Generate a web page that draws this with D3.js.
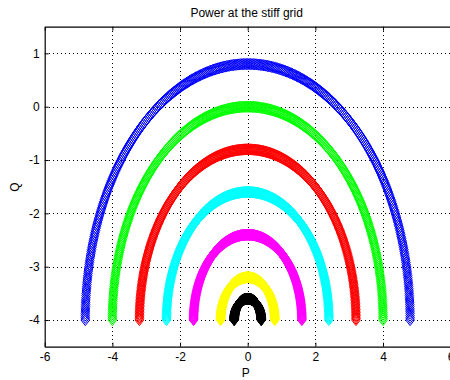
<!DOCTYPE html>
<html>
<head>
<meta charset="utf-8">
<script src="https://cdn.jsdelivr.net/npm/d3@7"></script>
<style>
  html, body { margin: 0; padding: 0; background: #fff; }
  svg { display: block; }
  text { font-family: "Liberation Sans", Arial, Helvetica, sans-serif; fill: #000; }
</style>
</head>
<body>
<svg id="chart" width="450" height="380"></svg>
<script>
// Sending-end voltage magnitudes (pu), one curve each
const sendVoltages = [1.2, 1.0, 0.8, 0.6, 0.4, 0.2, 0.1];
const curveColors = ["#0000ff", "#00ff00", "#ff0000", "#00ffff", "#ff00ff", "#ffff00", "#000000"];
// Stiff grid voltage (pu) and line reactance (pu)
const gridVoltage = 1.0;
const lineReactance = 0.25;
// Load angle sweep, degrees
const angleStart = -90, angleEnd = 90, angleStep = 0.5;

const xTicks = [-6, -4, -2, 0, 2, 4, 6];
const yTicks = [-4, -3, -2, -1, 0, 1];
const xDomain = [-6, 6];
const yDomain = [-4.5, 1.5];

const svg = d3.select("#chart");
const plotLeft = 44.7, plotRight = 450.7, plotTop = 26.7, plotBottom = 346.7;

const x = d3.scaleLinear().domain(xDomain).range([plotLeft, plotRight]);
const y = d3.scaleLinear().domain(yDomain).range([plotBottom, plotTop]);

// dotted grid
const grid = svg.append("g").attr("stroke", "#000").attr("stroke-width", 1)
  .attr("stroke-dasharray", "1,3").attr("shape-rendering", "crispEdges");
grid.selectAll("line.v").data(xTicks.filter(d => d > xDomain[0] && d < xDomain[1]))
  .join("line").attr("class", "v")
  .attr("x1", d => Math.round(x(d)) + 0.5).attr("x2", d => Math.round(x(d)) + 0.5)
  .attr("y1", plotTop).attr("y2", plotBottom);
grid.selectAll("line.h").data(yTicks.filter(d => d > yDomain[0] && d < yDomain[1]))
  .join("line").attr("class", "h")
  .attr("y1", d => Math.round(y(d)) + 0.5).attr("y2", d => Math.round(y(d)) + 0.5)
  .attr("x1", plotLeft).attr("x2", plotRight);

// P-Q circles: P = V*Vg*sin(d)/X, Q = (V*Vg*cos(d) - Vg^2)/X
const angles = d3.range(angleStart, angleEnd + angleStep / 2, angleStep);
const hw = 4.3, hh = 5.6;
const diamond = `M0,${-hh}L${hw},0L0,${hh}L${-hw},0Z`;

sendVoltages.forEach((v, i) => {
  const pts = angles.map(a => {
    const r = a * Math.PI / 180;
    return {
      p: v * gridVoltage * Math.sin(r) / lineReactance,
      q: (v * gridVoltage * Math.cos(r) - gridVoltage * gridVoltage) / lineReactance
    };
  });
  svg.append("g")
    .attr("fill", "none")
    .attr("stroke", curveColors[i])
    .attr("stroke-width", 1)
    .selectAll("path").data(pts).join("path")
    .attr("d", diamond)
    .attr("transform", d => `translate(${x(d.p)},${y(d.q)})`);
});

// axes
const fmt = d => String(d);
const xAxis = svg.append("g").attr("transform", `translate(0,${plotBottom})`)
  .call(d3.axisBottom(x).tickValues(xTicks).tickFormat(fmt).tickSizeInner(-4).tickSizeOuter(0).tickPadding(6));
const yAxis = svg.append("g").attr("transform", `translate(${plotLeft},0)`)
  .call(d3.axisLeft(y).tickValues(yTicks).tickFormat(fmt).tickSizeInner(-4).tickSizeOuter(0).tickPadding(5));
const topAxis = svg.append("g").attr("transform", `translate(0,${plotTop})`)
  .call(d3.axisTop(x).tickValues(xTicks).tickFormat("").tickSizeInner(-4).tickSizeOuter(0));
[xAxis, yAxis, topAxis].forEach(g => {
  g.selectAll(".domain").attr("stroke", "#000").attr("stroke-width", 1.2);
  g.selectAll(".tick line").attr("stroke", "#000");
  g.selectAll("text").attr("font-size", 12).attr("fill", "#000")
    .attr("font-family", '"Liberation Sans", Arial, sans-serif');
});

// title and axis labels
svg.append("text").attr("x", (plotLeft + plotRight) / 2 - 1).attr("y", 17)
  .attr("text-anchor", "middle").attr("font-size", 12).text("Power at the stiff grid");
svg.append("text").attr("x", (plotLeft + plotRight) / 2 - 2).attr("y", 377)
  .attr("text-anchor", "middle").attr("font-size", 12).text("P");
svg.append("text").attr("transform", "translate(19,187) rotate(-90)")
  .attr("text-anchor", "middle").attr("font-size", 12).text("Q");
</script>
</body>
</html>
